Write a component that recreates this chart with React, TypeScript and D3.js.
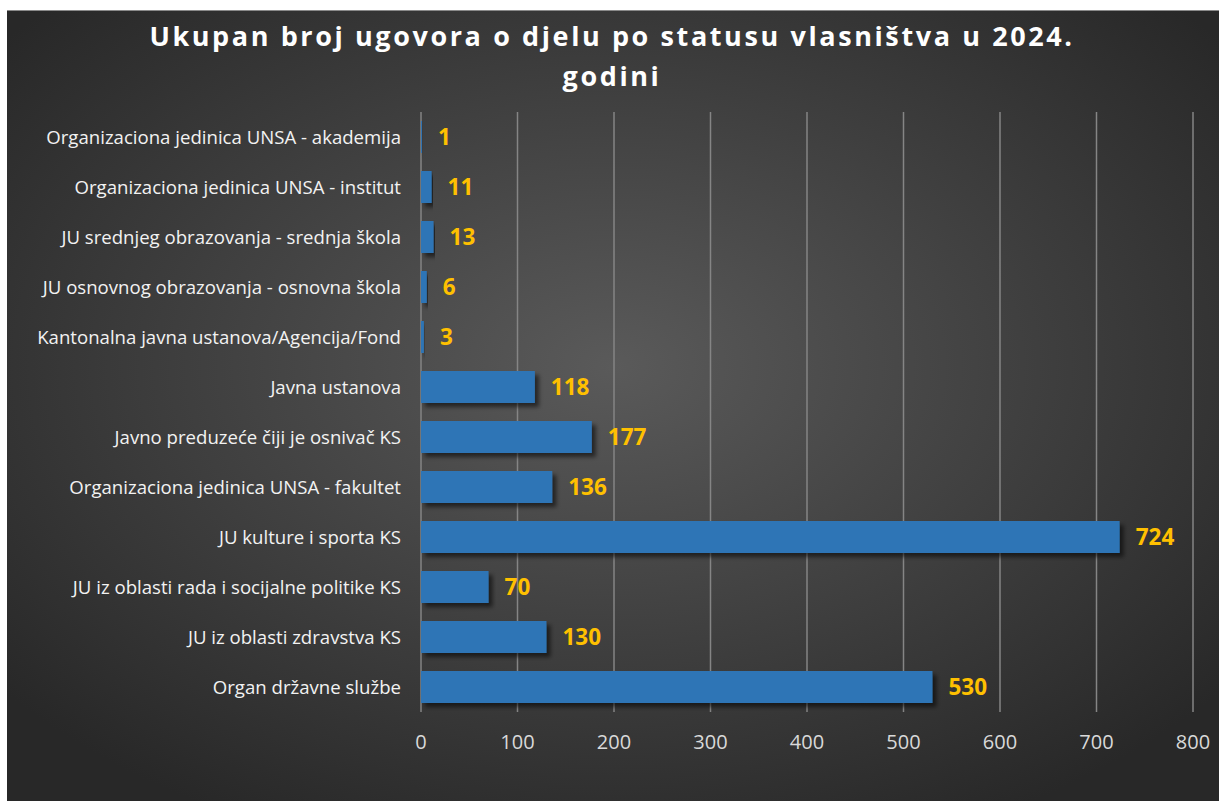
import React from "react";
import * as d3 from "d3";

const categories = [
  "Organizaciona jedinica UNSA - akademija",
  "Organizaciona jedinica UNSA - institut",
  "JU srednjeg obrazovanja - srednja škola",
  "JU osnovnog obrazovanja - osnovna škola",
  "Kantonalna javna ustanova/Agencija/Fond",
  "Javna ustanova",
  "Javno preduzeće čiji je osnivač KS",
  "Organizaciona jedinica UNSA - fakultet",
  "JU kulture i sporta KS",
  "JU iz oblasti rada i socijalne politike KS",
  "JU iz oblasti zdravstva KS",
  "Organ državne službe",
];
const values = [1, 11, 13, 6, 3, 118, 177, 136, 724, 70, 130, 530];
const ticks = [0, 100, 200, 300, 400, 500, 600, 700, 800];
const titleLines = ["Ukupan broj ugovora o djelu po statusu vlasništva u 2024.", "godini"];

const W = 1219;
const H = 801;

export default function App() {
  const x = d3.scaleLinear().domain([0, 800]).range([421, 1193]);
  const y = d3.scaleBand().domain(categories).range([112, 712]).paddingInner(0.36).paddingOuter(0.18);
  const font = "'Open Sans', 'Noto Sans', sans-serif";
  return (
    <svg width={W} height={H} style={{ position: "fixed", left: 0, top: 0 }}>
      <defs>
        <radialGradient id="bg" cx="50%" cy="45%" r="65%">
          <stop offset="0%" stopColor="#5a5a5a" />
          <stop offset="100%" stopColor="#282828" />
        </radialGradient>
        <filter id="sh" x="-5%" y="-20%" width="115%" height="160%">
          <feDropShadow dx="4" dy="4" stdDeviation="2" floodColor="#000" floodOpacity="0.55" />
        </filter>
      </defs>
      <rect x={0} y={0} width={W} height={H} fill="#fff" />
      <rect x={7} y={10} width={W - 7} height={H - 10} fill="url(#bg)" />
      <line x1={7} x2={W} y1={10.5} y2={10.5} stroke="#8a8a8a" strokeWidth={1} />
      {titleLines.map((t, i) => (
        <text
          key={i}
          x={612}
          y={46 + i * 40}
          textAnchor="middle"
          fill="#ffffff"
          fontFamily={font}
          fontWeight={700}
          fontSize={27}
          letterSpacing={2.6}
        >
          {t}
        </text>
      ))}
      {ticks.map((t) => (
        <line key={t} x1={x(t)} x2={x(t)} y1={112} y2={712} stroke="#858585" strokeWidth={1.5} />
      ))}
      {categories.map((c, i) => (
        <g key={c}>
          <rect
            x={x(0)}
            y={y(c)!}
            width={x(values[i]) - x(0)}
            height={y.bandwidth()}
            fill="#2e75b6"
            filter="url(#sh)"
          />
          <text
            x={401}
            y={y(c)! + y.bandwidth() / 2}
            dy="0.35em"
            textAnchor="end"
            fill="#f2f2f2"
            fontFamily={font}
            fontSize={18.6}
          >
            {c}
          </text>
          <text
            x={x(values[i]) + 16}
            y={y(c)! + y.bandwidth() / 2}
            dy="0.36em"
            fill="#ffc000"
            fontFamily={font}
            fontWeight={700}
            fontSize={22.5}
          >
            {values[i]}
          </text>
        </g>
      ))}
      {ticks.map((t) => (
        <text
          key={"t" + t}
          x={x(t)}
          y={742}
          dy="0.35em"
          textAnchor="middle"
          fill="#d9d9d9"
          fontFamily={font}
          fontSize={20}
        >
          {t}
        </text>
      ))}
    </svg>
  );
}
